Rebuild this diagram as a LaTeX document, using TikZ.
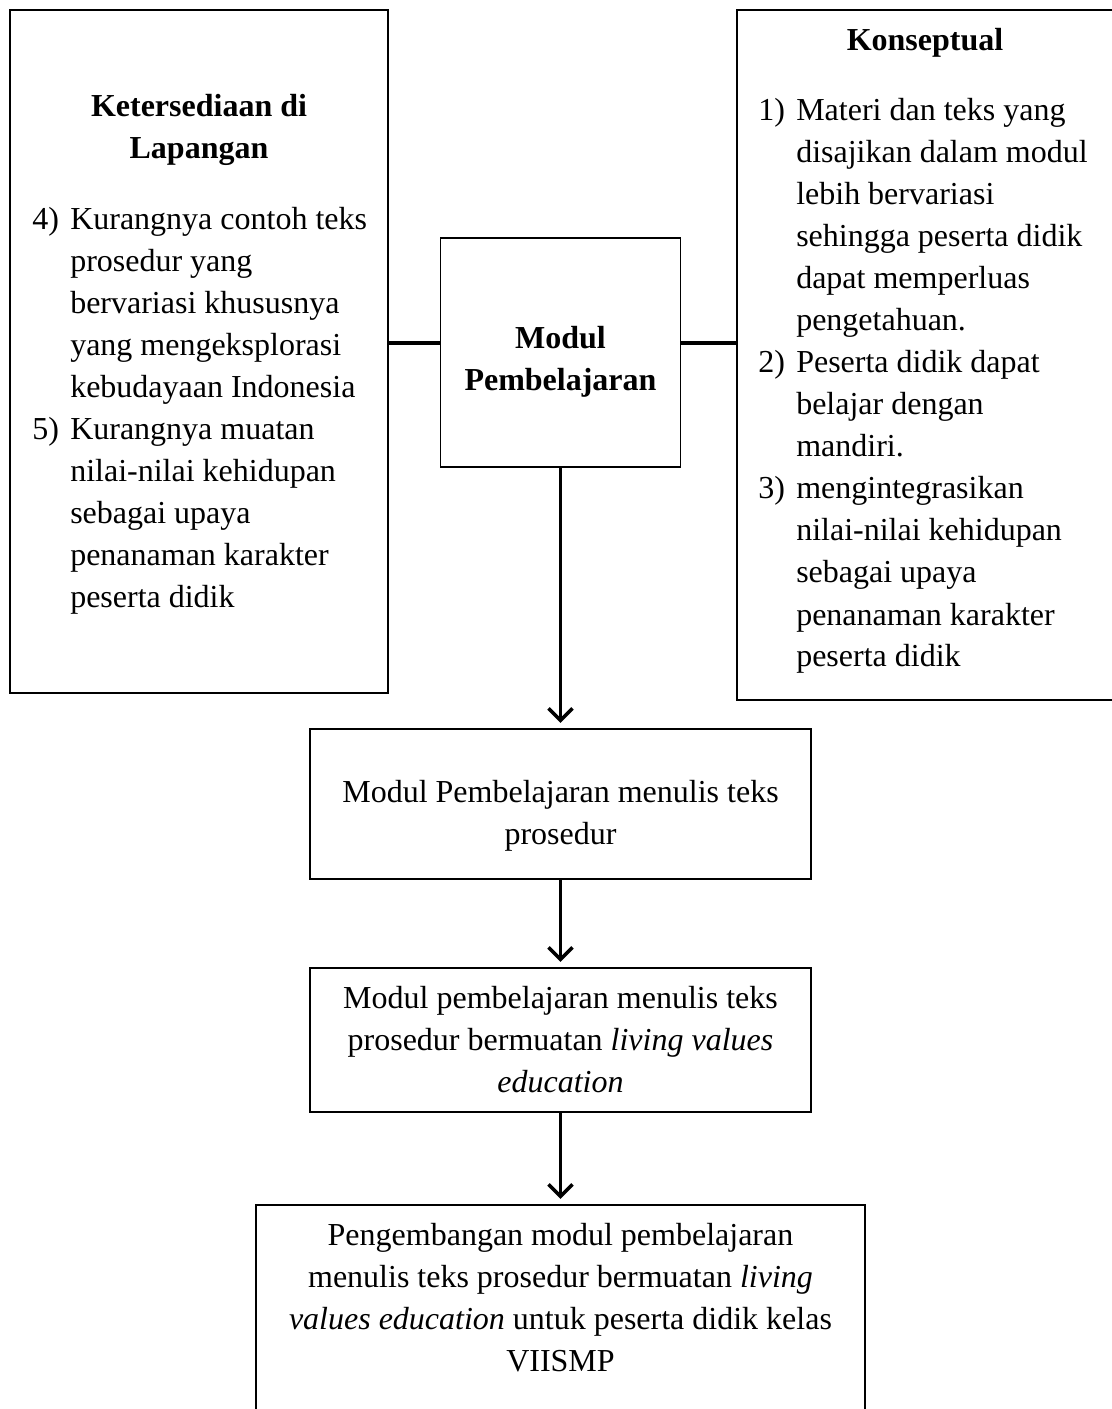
\documentclass[tikz,border=0pt]{standalone}
\usepackage{fontspec}
\setmainfont{Liberation Serif}
\usetikzlibrary{arrows.meta}

\begin{document}
\begin{tikzpicture}[x=0.75pt,y=0.75pt,yscale=-1,xscale=1,
  box/.style={draw, line width=1.3pt, inner sep=0pt},
  txt/.style={inner sep=0pt, anchor=base, font=\fontsize{24}{31.5}\selectfont},
  link/.style={line width=2.6pt},
  flow/.style={line width=2.6pt, -{Straight Barb[length=9pt,width=18pt]}, shorten >=4pt}]
\useasboundingbox (0,0) rectangle (1111,1409);

%Shape: Rectangle
\node[box, minimum width=283.5pt, minimum height=512.25pt] (ket) at (199,351.5) {};
%Shape: Rectangle
\node[box, minimum width=282.75pt, minimum height=517.5pt] (kon) at (925.5,355) {};
%Shape: Rectangle
\node[box, minimum width=180pt, minimum height=171.75pt] (mod) at (560.5,352.5) {};
%Shape: Rectangle
\node[box, minimum width=375.75pt, minimum height=112.5pt] (tulis) at (560.5,804) {};
%Shape: Rectangle
\node[box, minimum width=375.75pt, minimum height=108pt] (lve) at (560.5,1040) {};
%Shape: Rectangle
\node[box, minimum width=456.75pt, minimum height=191.25pt] (kembang) at (560.5,1332.5) {};

% Text Node
\node[txt] (ketjudul) at (199,117) {\begin{tabular}[t]{@{}c@{}}\textbf{Ketersediaan di}\\ \textbf{Lapangan}\end{tabular}};
% Text Node
\node[txt, anchor=base west] (ketisi) at (32,229) {\begin{tabular}[t]{@{}l@{\hspace{8.5pt}}l@{}}
4) & Kurangnya contoh teks\\
   & prosedur yang\\
   & bervariasi khususnya\\
   & yang mengeksplorasi\\
   & kebudayaan Indonesia\\
5) & Kurangnya muatan\\
   & nilai-nilai kehidupan\\
   & sebagai upaya\\
   & penanaman karakter\\
   & peserta didik
\end{tabular}};
% Text Node
\node[txt] (konjudul) at (925,51) {\textbf{Konseptual}};
% Text Node
\node[txt, anchor=base west] (konisi) at (758,121) {\begin{tabular}[t]{@{}l@{\hspace{8.5pt}}l@{}}
1) & Materi dan teks yang\\
   & disajikan dalam modul\\
   & lebih bervariasi\\
   & sehingga peserta didik\\
   & dapat memperluas\\
   & pengetahuan.\\
2) & Peserta didik dapat\\
   & belajar dengan\\
   & mandiri.\\
3) & mengintegrasikan\\
   & nilai-nilai kehidupan\\
   & sebagai upaya\\
   & penanaman karakter\\
   & peserta didik
\end{tabular}};
% Text Node
\node[txt] (modteks) at (560.5,348) {\begin{tabular}[t]{@{}c@{}}\textbf{Modul}\\ \textbf{Pembelajaran}\end{tabular}};
% Text Node
\node[txt] (tulisteks) at (560.5,802) {\begin{tabular}[t]{@{}c@{}}Modul Pembelajaran menulis teks\\ prosedur\end{tabular}};
% Text Node
\node[txt] (lveteks) at (560.5,1008) {\begin{tabular}[t]{@{}c@{}}Modul pembelajaran menulis teks\\ prosedur bermuatan \textit{living values}\\ \textit{education}\end{tabular}};
% Text Node
\node[txt] (kembangteks) at (560.5,1245) {\begin{tabular}[t]{@{}c@{}}Pengembangan modul pembelajaran\\ menulis teks prosedur bermuatan \textit{living}\\ \textit{values education} untuk peserta didik kelas\\ VIISMP\end{tabular}};

%Straight Lines
\coordinate (kiri) at ([yshift=-7.1pt]mod.west);
\draw[link] (kiri) -- (kiri -| ket.east);
%Straight Lines
\coordinate (kanan) at ([yshift=-7.1pt]mod.east);
\draw[link] (kanan) -- (kanan -| kon.west);
%Straight Lines
\draw[flow] (mod.south) -- (tulis.north);
%Straight Lines
\draw[flow] (tulis.south) -- (lve.north);
%Straight Lines
\draw[flow] (lve.south) -- (kembang.north);

\end{tikzpicture}
\end{document}
